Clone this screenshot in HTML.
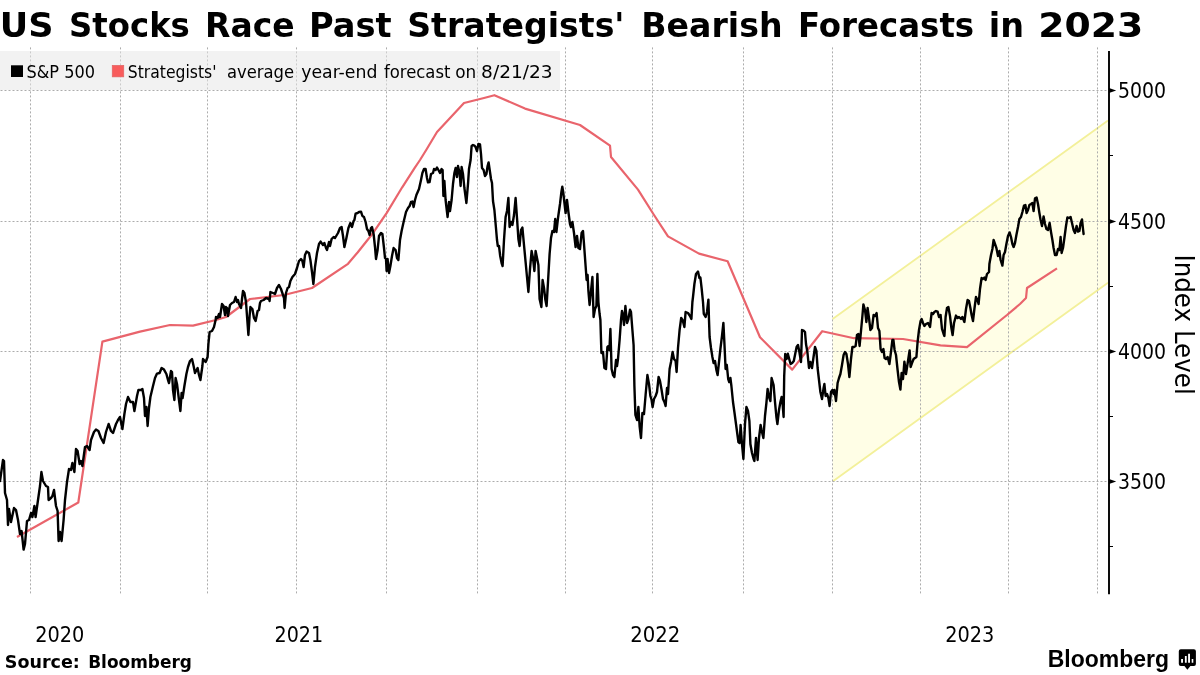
<!DOCTYPE html>
<html lang="en"><head><meta charset="utf-8"><title>US Stocks Race Past Strategists' Bearish Forecasts in 2023</title>
<style>
html,body{margin:0;padding:0;background:#fff;}
body{width:1200px;height:675px;overflow:hidden;}
svg{display:block;}
.t{font-family:"DejaVu Sans","Liberation Sans",sans-serif;font-weight:bold;}
.c{font-family:"DejaVu Sans Condensed","DejaVu Sans","Liberation Sans",sans-serif;font-stretch:condensed;}
.l{font-family:"Liberation Sans",sans-serif;font-weight:bold;}
</style></head><body>
<svg width="1200" height="675" viewBox="0 0 1200 675">
<rect width="1200" height="675" fill="#fff"/>
<text class="t" y="36.8" font-size="34" fill="#000"><tspan x="-0.35" textLength="53.77" lengthAdjust="spacingAndGlyphs">US</tspan> <tspan x="69.1" textLength="120.75" lengthAdjust="spacingAndGlyphs">Stocks</tspan> <tspan x="205.09" textLength="89.51" lengthAdjust="spacingAndGlyphs">Race</tspan> <tspan x="309.03" textLength="82.72" lengthAdjust="spacingAndGlyphs">Past</tspan> <tspan x="407.25" textLength="217.28" lengthAdjust="spacingAndGlyphs">Strategists'</tspan> <tspan x="641.27" textLength="141.28" lengthAdjust="spacingAndGlyphs">Bearish</tspan> <tspan x="797.94" textLength="176.23" lengthAdjust="spacingAndGlyphs">Forecasts</tspan> <tspan x="988.78" textLength="35.3" lengthAdjust="spacingAndGlyphs">in</tspan> <tspan x="1038.38" textLength="104.95" lengthAdjust="spacingAndGlyphs">2023</tspan> </text>
<polygon points="832.6,319.1 1108,120.5 1108,282.7 832.6,481.4" fill="#fffee6"/>
<path d="M832.6,319.1 L1108,120.5 M832.6,481.4 L1108,282.7" stroke="#f3f09a" stroke-width="1.8" fill="none"/>
<path d="M30.5,47.4V594 M120.5,47.4V594 M207.5,47.4V594 M296.5,47.4V594 M386.5,47.4V594 M477.5,47.4V594 M565.5,47.4V594 M652.5,47.4V594 M743.5,47.4V594 M832.5,47.4V594 M920.5,47.4V594 M1008.5,47.4V594 M1097.5,47.4V594 M0.5,90.5H1108 M0.5,221.5H1108 M0.5,351.5H1108 M0.5,481.5H1108" stroke="#acacac" stroke-width="1" stroke-dasharray="2 2" fill="none"/>
<rect x="0" y="51" width="560" height="39" fill="#e6e6e6" fill-opacity="0.52"/>
<path d="M1109,51V594.3" stroke="#000" stroke-width="1.9" fill="none"/>
<path d="M1109,155.5H1113.2 M1109,286.5H1113.2 M1109,416.5H1113.2 M1109,546.5H1113.2" stroke="#000" stroke-width="1" fill="none" shape-rendering="crispEdges"/>
<path d="M1109,87.9L1116.2,90.5L1109,93.1Z" fill="#000"/>
<text class="c" x="1118" y="97.6" font-size="21" textLength="48.08" lengthAdjust="spacingAndGlyphs" fill="#000">5000</text>
<path d="M1109,218.9L1116.2,221.5L1109,224.1Z" fill="#000"/>
<text class="c" x="1118" y="228.6" font-size="21" textLength="48.08" lengthAdjust="spacingAndGlyphs" fill="#000">4500</text>
<path d="M1109,348.9L1116.2,351.5L1109,354.1Z" fill="#000"/>
<text class="c" x="1118" y="358.6" font-size="21" textLength="48.08" lengthAdjust="spacingAndGlyphs" fill="#000">4000</text>
<path d="M1109,478.9L1116.2,481.5L1109,484.1Z" fill="#000"/>
<text class="c" x="1118" y="488.6" font-size="21" textLength="48.08" lengthAdjust="spacingAndGlyphs" fill="#000">3500</text>
<polyline points="17,537 78.3,502.5 102.4,341.6 140,331.6 170,325 193,325.6 216,320 226,317 250,299 284,295 312,288 348,263.8 357.8,252.2 372.9,233.2 386.6,213.1 402.2,187.3 414.7,167.8 420,160 426.2,150 437,132 464,103 484,98 494.4,95.2 525,108.6 580,125 610,145.6 611,157 638,189.6 654,215 668,236.4 699,253.6 727.6,261.3 760,337.2 792.2,369.6 822.2,331.2 854,338.2 903,339 940.5,345.4 967,347.2 1007,315 1020,304 1026,298 1027,288 1057,268.4" fill="none" stroke="#e9646c" stroke-width="2.2" stroke-linejoin="round" stroke-linecap="butt"/>
<polyline points="0,481 3,460 4,461 5,493 7,500 8,525 9,509 11,522 14,508 16,510 18,520 20,534 21.6,531 23.6,549.6 25,544 27,521 29,520 31,513 32.4,517 34.4,506 35.6,517 38,500 40,486 41.4,472 43,481 46,486 48,487 48.6,500 51,498 52.4,496 54,490 56,506 57.6,511 58.6,541 60,532 61.6,541 63.6,520 65,500 67,482 69,469 71,470 72.4,463 74.4,472 76,449 77.6,451 79.6,464 81,461 82.4,466 85,447 87,446 89.6,450 91,440 94,432 96,429.6 98.4,431 101,438 103.6,443 106,432 108.6,424 111,431 113,433 116,424 118,420 120,417 122.4,429 124.4,414 126,404 128,397 130.4,402 133,402 134.4,411 137,396 138.4,390 141,390 142.4,389 144,398 145,416 146.4,407 147.6,426 149,408 150.4,397 153,386 155,378 157,373.6 159.6,373 161.6,368 164,369.6 166.4,374 168,380 169,383 171,371 172,372 173,390 174.4,400 175.6,378 177,384 179,400 180.4,411 181.6,393 182.6,398 184.4,386 186.4,374 188,367 190,361 192,359 193.6,366 195,373 197.6,368 199,375 200.4,380 202.4,366 203,359 205.6,362 207.6,357 208.4,344 209.6,332 212,331 214,327 215.6,320 216,317 217.6,318 219,314 220,317 222,304 223.6,306 225,315 226,307 227,308 228,316 230,305 232,303 234,302 235.6,297 237,302 238,300 239,304 241,308 242,299 243,291 244.4,293 246,302 247,316 248.4,335 249.6,316 250.4,307 252.4,309 254,318 255.6,321 257.6,311 259,310 260,303 261,301 263.6,300 266,298 269,299 269.6,301 270.4,292 273,293 275,294 277,288 279,285 281,289 283,295 284,298 284.6,308 286,293 287.6,288 289,287 290.4,281 292.4,277 295,274 297,268 299,261 301,259 302.4,261 303.6,267 305,255 306.6,251.6 309,253 310.4,260 312,272 313.4,284 315,267 317,253 319,244 320.6,241.6 323,245 324.4,243 326,248 327,250 329,242 330,246 331.6,239 333.6,237 335,238 338,233 340,228 341.6,227 343,236 344.4,247 346.4,238 348.4,228 350.4,223 352,227 353.6,221 354.4,220 355.6,213.6 357.6,213 359,212 361,211.6 362.4,216 364,217 365.6,222 367,229 368.4,231 369.6,235 371,228 372,227 373.6,234 375,247 376,259 377.6,250 379,236 381,233 382.4,234 384,248 385,258 386,259 386.6,271 387.6,259 389,273 390.4,266 392,256 393.6,248 395.6,250 397,258 398.4,260 400,240 401.6,231 403.6,222 406,212 408,208 409.6,206 411,202 412.4,201.6 413.6,207 415,200 416.4,195 419,189 421,180 422.4,173 424,169 425.6,169 427,178 428,182.4 429.6,182 431,174 433,173 434,169 435.6,170 437,167.6 439,171 440,173 441.6,169 442.6,170 443.4,196 444.4,181 445.6,200 447,212 447.6,217 449,202 450,211 451.6,200 453,184 454.4,173 455.6,168 457,177 458,166 459.6,173 460.6,186 461.6,167 463,174 464.4,188 466.4,203 468,184 469,169 470.6,160 471.6,146 473,145 474.4,145.6 475.6,147 477,151 478.4,144 480,144.4 481,154 482,168 483.6,170 485,176 486.4,174 487.6,166 488.6,162.4 490,172 491,179 492,183 493,201 494.4,210 495.8,226 497,240 497.8,246 499,246 500.2,256 501.6,263 502.6,266 504,240 505.6,217 507,211 508.4,198 509.6,227 511,222 512.4,225 514,215 515.6,198 517,218 518.4,239 519.6,246 521,230 522.4,227.6 524,245 525.6,262 527,277 528.4,292 530,269 531.6,251 533,258 534.4,271 535.6,251 537,258 538.4,265 539.6,299 541.4,307 542.6,280 544,288 545.4,300 546.6,306 548,282 549.6,254 551,238 552.4,231 554,232 555.2,219 556.4,232 558,218 560,204 561.4,192 562.3,186.6 563.2,192 564,199 565.6,213 567,200 568.4,212 570,224 571,227 572.4,222 574,233 575.6,247 577,236 578.4,248 580,249 581.6,233 583,231 584,244 585.6,266 586.6,280 587.6,275 588.4,291 589.6,305 591,291 592.4,277 593.6,317 595,309 596.4,306 597.4,274 598.4,302 599.6,314 600.4,320 601.4,353 603,352 604.4,368 606,369 607.4,347 608.6,346 609.4,350 610.4,329 611.6,369 613,375 614.4,377 616,360 617,366 618,359 619.6,340 621,320 622,311 623,315 624,325 625.4,306 627,323 628.4,319 630,309.6 631,312 632.4,330 633.6,345 634.4,386 635.4,415 637,420 638.4,407 639.6,426 641,438 642.4,413 644,414 645.6,395 647.4,375 649,384 650.4,396 651.6,400 652.6,407 654,399 655.6,396 657,392 658.6,377 660,381 661.6,390 663,399 664.4,402 665.6,406 667,388 668,394 669.6,369 671,362 672.6,352 674,359 675.6,361 676.6,372 678,348 679.6,330 681.2,318 682.6,320 684.4,327 685.6,312 688,313 690,316 691.4,319 692.4,302 693,297 694.4,284 696,274 698,271.6 699.4,278 700.4,277.6 701.6,288 703,302 703.8,314 705.6,317 707,312 708.4,299.6 709,320 709.6,337 711,348 712.4,357 713.6,363 715,361 716.4,370 717.6,375 719,362 720.4,349 722,336 723.4,323 724.4,343 725.6,369 726.8,365 728.2,379 729.2,382 730.4,378 731.4,386 733,402 734.4,412 736,424 737.6,436 738.4,442 739.6,443 740.6,425 742,444 743.4,459 745,424 746.4,407 748,411 749.4,421 750.4,444 752,453 753.6,459 754.4,461 756,438 757.6,460 759,438 760.6,425 762,432 763.4,438 765,416 766.4,403 767.6,389 769,397 770.4,401 771.6,378 773.6,385 775,402 776.4,417 777.4,424 779,410 780.4,402 781.6,397 782.6,404 783.6,417 784.2,376 785.2,354 786.6,359 787.8,353.6 789.2,359 790.6,364 792.2,363 793.8,361 795.2,354 796.6,347 798,345 799.4,352 801,362 802,330 803.6,330.6 805,332 806,344 807.4,352 809,368 810.4,362 812,368 813.4,358 815,347 816.4,351 817.6,368 819,380 820.4,392 822,399 823.6,388 824.4,384 825.6,396 827,394 828.4,398 829.6,406 831,392 832.4,390 833.6,394 834.4,390 836,401 837.6,383 839,378 840.4,374 842,365 843.6,355 845,352 846.4,354 848,364 849.4,377 851,359 852.4,347 854,347 855.6,346 857,335 858.4,334 859.6,346 861,331 862.4,316 863.4,304.4 865,310 866.4,322 867.6,308 869,318 870.4,330 872,328 873.6,315 875,316 876.6,313 878,328 879.4,331 880.6,349 882,352 883.4,349 884.6,358 886,359 887.6,357 889.4,364 891,352 892.4,340 893.4,340 894.6,350 896,355 897.6,370 899,382 900.4,389.6 901.6,373 903,379 904.4,361.6 906,374 908,361 909.6,350.4 910.6,367 912,363 913.6,359 915,358 916.4,357 917.6,342 919,330 920.6,321 921.6,319 923,323 924.4,326 926,324 928,323 930,327 931.6,313 933,314 934.4,312 936,311 937.6,311.6 939,317 940.6,315 942,329 943.6,334 944.4,336 945.6,317 947,308 948.4,307 950,316 951.4,328 952.6,335 954,323 956,315.6 957.6,318 959,317 961,319 962.4,317 964.4,322 966,309 967.6,300 969,301 970.4,308 971.6,315 973,321 974.4,309 976,297 977.4,300 978.6,304 980,289 981.6,278 983,279 984.4,277.6 985.6,280 987,274 989,272 989.4,264 991,255 992.4,249 993.6,240 995,244 996.4,248 998,256 999.4,251 1000.6,260 1002.4,265.6 1003.6,255 1005,252 1006.4,244 1008,236 1009.6,232.4 1011,237 1012.4,244 1013.6,247 1015,243 1016.4,235 1018,227 1019.4,219 1021,217 1022.4,212 1024,205.6 1025.4,205 1026.6,213 1028,210 1029.4,205 1031,204 1032.4,203 1033.6,211 1035,198.4 1036.6,197.6 1038,204 1039.4,213 1040.6,220 1042,226 1043.6,216.4 1045,224 1046.4,229 1048,230 1049.6,223 1051,232 1052.4,240 1053.6,248 1055,255 1056.6,255 1058,249 1059.4,250 1060.6,237 1061.6,253 1063,248 1064.4,238 1066,226 1067.4,217.4 1069,218 1070.6,217 1072,223 1073.6,230 1075,233 1076.6,226 1078,231.6 1079.4,231 1080.6,223 1082,219.4 1083,229 1083.6,234" fill="none" stroke="#000" stroke-width="2.4" stroke-linejoin="round" stroke-linecap="round"/>
<rect x="11" y="65.3" width="12" height="11.7" fill="#000"/>
<text class="c" x="26.5" y="78" font-size="18" textLength="68.48" lengthAdjust="spacingAndGlyphs" fill="#000" xml:space="preserve">S&amp;P 500</text>
<rect x="112.2" y="65.3" width="11.6" height="11.6" fill="#f85c5c" stroke="#dc6464" stroke-width="0.6"/>
<text class="c" y="78" font-size="18" fill="#000"><tspan x="127.79" textLength="88.65" lengthAdjust="spacingAndGlyphs">Strategists'</tspan> <tspan x="226.99" textLength="67.06" lengthAdjust="spacingAndGlyphs">average</tspan> <tspan x="301.25" textLength="76.18" lengthAdjust="spacingAndGlyphs">year-end</tspan> <tspan x="384.0" textLength="66.44" lengthAdjust="spacingAndGlyphs">forecast</tspan> <tspan x="455.21" textLength="21.01" lengthAdjust="spacingAndGlyphs">on</tspan> <tspan x="481.1" textLength="71.53" lengthAdjust="spacingAndGlyphs">8/21/23</tspan> </text>
<text class="c" x="35.23" y="641.9" font-size="21" textLength="49.12" lengthAdjust="spacingAndGlyphs" fill="#000">2020</text>
<text class="c" x="274.49" y="641.9" font-size="21" textLength="48.6" lengthAdjust="spacingAndGlyphs" fill="#000">2021</text>
<text class="c" x="630.26" y="641.9" font-size="21" textLength="50.11" lengthAdjust="spacingAndGlyphs" fill="#000">2022</text>
<text class="c" x="945.23" y="641.9" font-size="21" textLength="49.18" lengthAdjust="spacingAndGlyphs" fill="#000">2023</text>
<text class="c" transform="translate(1175,254.4) rotate(90)" font-size="27" textLength="140.37" lengthAdjust="spacingAndGlyphs" fill="#000">Index Level</text>
<text class="t" y="667.9" font-size="17" fill="#000"><tspan x="4.77" textLength="75.12" lengthAdjust="spacingAndGlyphs">Source:</tspan> <tspan x="88.2" textLength="103.7" lengthAdjust="spacingAndGlyphs">Bloomberg</tspan></text>
<text class="l" x="1047.74" y="667" font-size="24.2" fill="#000" textLength="121.36" lengthAdjust="spacingAndGlyphs">Bloomberg</text>
<path d="M1180.8,649.3H1193.9Q1195.9,649.3 1195.9,651.3V663.9Q1195.9,665.9 1193.9,665.9H1190.4L1187.4,669.8L1184.4,665.9H1180.8Q1178.8,665.9 1178.8,663.9V651.3Q1178.8,649.3 1180.8,649.3Z" fill="#000"/>
<path d="M1181.1,658.9h1.9v3.9h-1.9zM1184.9,656h1.8v6.8h-1.8zM1188.1,653.7h1.9v9.1h-1.9zM1191.7,658.9h1.6v3.9h-1.6z" fill="#fff"/>
</svg>
</body></html>
